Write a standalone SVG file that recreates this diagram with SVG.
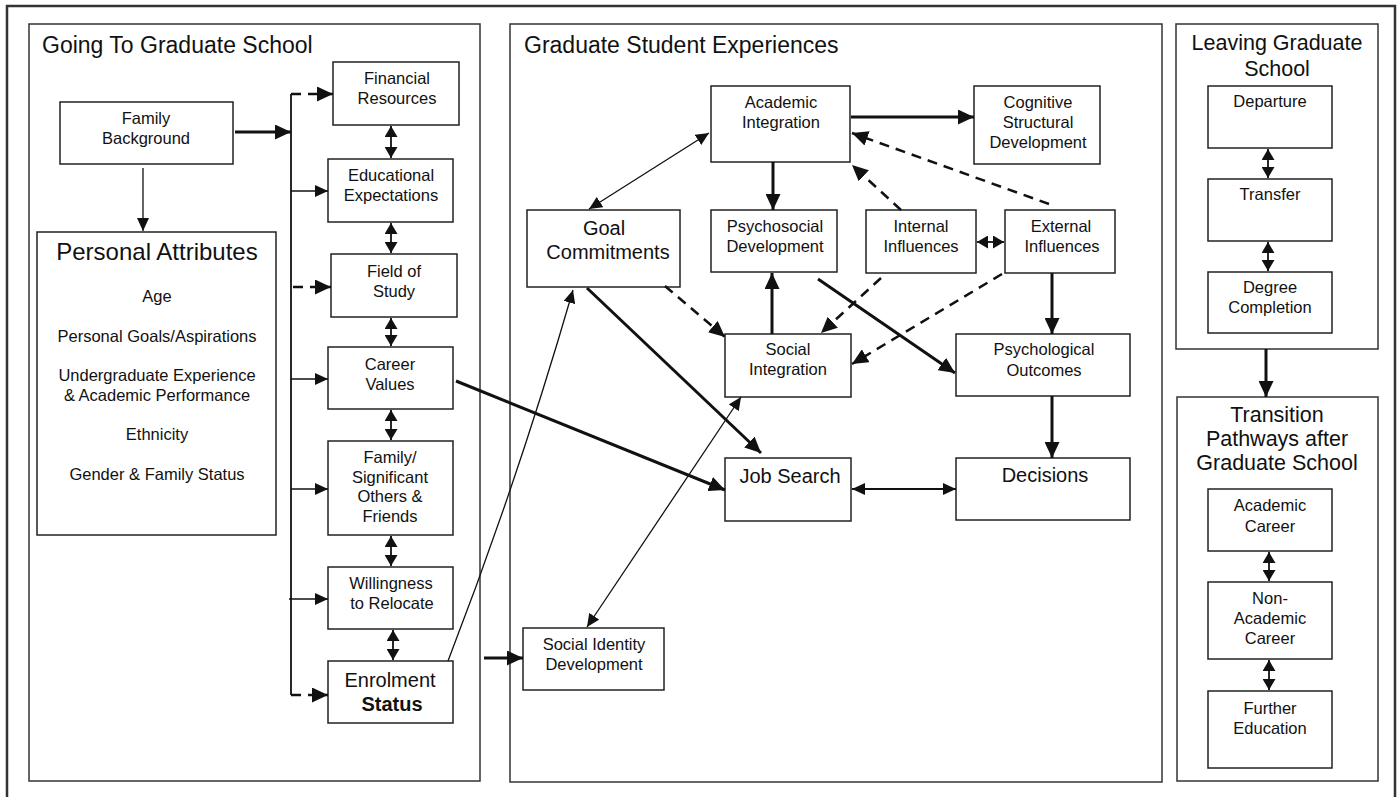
<svg xmlns="http://www.w3.org/2000/svg" width="1398" height="797" viewBox="0 0 1398 797">
<style>
text{font-family:"Liberation Sans",Arial,sans-serif;fill:#111;text-anchor:middle}
.t{font-size:16.5px}
.tl{font-size:20px}
.h{font-size:23px}
.h2{font-size:21.5px}
.box{fill:#fff;stroke:#222;stroke-width:1.5}
.panel{fill:#fff;stroke:#333;stroke-width:1.5}
.thick{fill:none;stroke:#111;stroke-width:3}
.thin{fill:none;stroke:#111;stroke-width:1.3}
.med{fill:none;stroke:#111;stroke-width:1.8}
.dash{fill:none;stroke:#111;stroke-width:2.5;stroke-dasharray:10 7}
</style>
<defs>
<marker id="big" viewBox="0 0 16 15" refX="16" refY="7.5" markerWidth="16" markerHeight="15" markerUnits="userSpaceOnUse" orient="auto-start-reverse"><path d="M0,0 L16,7.5 L0,15 z" fill="#111"/></marker>
<marker id="sm" viewBox="0 0 13 12" refX="13" refY="6" markerWidth="13" markerHeight="12" markerUnits="userSpaceOnUse" orient="auto-start-reverse"><path d="M0,0 L13,6 L0,12 z" fill="#111"/></marker>
<marker id="dbl" viewBox="0 0 11 13" refX="11" refY="6.5" markerWidth="11" markerHeight="13" markerUnits="userSpaceOnUse" orient="auto-start-reverse"><path d="M0,0 L11,6.5 L0,13 z" fill="#111"/></marker>
</defs>
<rect x="0" y="0" width="1398" height="797" fill="#fff"/>
<rect x="7" y="6" width="1388" height="800" fill="none" stroke="#333" stroke-width="2.5"/>

<g id="panel-going">
<rect class="panel" x="29" y="24" width="451" height="757"/>
<text class="h" x="42" y="53" style="text-anchor:start">Going To Graduate School</text>
</g>
<g id="panel-experiences">
<rect class="panel" x="510" y="24" width="652" height="758"/>
<text class="h" x="524" y="53" style="text-anchor:start">Graduate Student Experiences</text>
</g>
<g id="panel-leaving">
<rect class="panel" x="1176" y="24" width="202" height="325"/>
<text class="h2" x="1277" y="50">Leaving Graduate</text>
<text class="h2" x="1277" y="76">School</text>
</g>
<g id="panel-transition">
<rect class="panel" x="1177" y="397" width="201" height="384"/>
<text class="h2" x="1277" y="422">Transition</text>
<text class="h2" x="1277" y="446">Pathways after</text>
<text class="h2" x="1277" y="470">Graduate School</text>
</g>

<g id="family-background">
<rect class="box" x="60" y="102" width="173" height="62"/>
<text class="t" x="146" y="124">Family</text>
<text class="t" x="146" y="144">Background</text>
</g>
<g id="personal-attributes">
<rect class="box" x="37" y="232" width="239" height="303"/>
<text x="157" y="260" style="font-size:24px">Personal Attributes</text>
<text class="t" x="157" y="302">Age</text>
<text class="t" x="157" y="342">Personal Goals/Aspirations</text>
<text class="t" x="157" y="381">Undergraduate Experience</text>
<text class="t" x="157" y="401">&amp; Academic Performance</text>
<text class="t" x="157" y="440">Ethnicity</text>
<text class="t" x="157" y="480">Gender &amp; Family Status</text>
</g>
<g id="financial-resources">
<rect class="box" x="333" y="62" width="126" height="63"/>
<text class="t" x="397" y="84">Financial</text>
<text class="t" x="397" y="104">Resources</text>
</g>
<g id="educational-expectations">
<rect class="box" x="328" y="159" width="125" height="63"/>
<text class="t" x="391" y="181">Educational</text>
<text class="t" x="391" y="201">Expectations</text>
</g>
<g id="field-of-study">
<rect class="box" x="331" y="254" width="126" height="63"/>
<text class="t" x="394" y="277">Field of</text>
<text class="t" x="394" y="297">Study</text>
</g>
<g id="career-values">
<rect class="box" x="328" y="347" width="125" height="62"/>
<text class="t" x="390" y="370">Career</text>
<text class="t" x="390" y="390">Values</text>
</g>
<g id="family-significant-others">
<rect class="box" x="328" y="441" width="125" height="94"/>
<text class="t" x="390" y="463">Family/</text>
<text class="t" x="390" y="483">Significant</text>
<text class="t" x="390" y="502">Others &amp;</text>
<text class="t" x="390" y="522">Friends</text>
</g>
<g id="willingness-to-relocate">
<rect class="box" x="328" y="567" width="125" height="62"/>
<text class="t" x="391" y="589">Willingness</text>
<text class="t" x="392" y="609">to Relocate</text>
</g>
<g id="enrolment-status">
<rect class="box" x="328" y="661" width="125" height="62"/>
<text class="tl" x="390" y="687">Enrolment</text>
<text class="tl" x="392" y="711" style="font-weight:bold">Status</text>
</g>

<g id="academic-integration">
<rect class="box" x="711" y="86" width="139" height="76"/>
<text class="t" x="781" y="108">Academic</text>
<text class="t" x="781" y="128">Integration</text>
</g>
<g id="cognitive-structural-development">
<rect class="box" x="974" y="86" width="126" height="78"/>
<text class="t" x="1038" y="108">Cognitive</text>
<text class="t" x="1038" y="128">Structural</text>
<text class="t" x="1038" y="148">Development</text>
</g>
<g id="goal-commitments">
<rect class="box" x="527" y="210" width="153" height="77"/>
<text class="tl" x="604" y="235">Goal</text>
<text class="tl" x="608" y="259">Commitments</text>
</g>
<g id="psychosocial-development">
<rect class="box" x="711" y="210" width="126" height="62"/>
<text class="t" x="775" y="232">Psychosocial</text>
<text class="t" x="775" y="252">Development</text>
</g>
<g id="internal-influences">
<rect class="box" x="866" y="210" width="110" height="63"/>
<text class="t" x="921" y="232">Internal</text>
<text class="t" x="921" y="252">Influences</text>
</g>
<g id="external-influences">
<rect class="box" x="1005" y="210" width="110" height="63"/>
<text class="t" x="1061" y="232">External</text>
<text class="t" x="1062" y="252">Influences</text>
</g>
<g id="social-integration">
<rect class="box" x="725" y="334" width="126" height="63"/>
<text class="t" x="788" y="355">Social</text>
<text class="t" x="788" y="375">Integration</text>
</g>
<g id="psychological-outcomes">
<rect class="box" x="956" y="334" width="174" height="62"/>
<text class="t" x="1044" y="355">Psychological</text>
<text class="t" x="1044" y="376">Outcomes</text>
</g>
<g id="job-search">
<rect class="box" x="725" y="458" width="126" height="63"/>
<text class="tl" x="790" y="483">Job Search</text>
</g>
<g id="decisions">
<rect class="box" x="956" y="458" width="174" height="62"/>
<text class="tl" x="1045" y="482">Decisions</text>
</g>
<g id="social-identity-development">
<rect class="box" x="523" y="628" width="141" height="62"/>
<text class="t" x="594" y="650">Social Identity</text>
<text class="t" x="594" y="670">Development</text>
</g>

<g id="departure">
<rect class="box" x="1208" y="86" width="124" height="62"/>
<text class="t" x="1270" y="107">Departure</text>
</g>
<g id="transfer">
<rect class="box" x="1208" y="179" width="124" height="62"/>
<text class="t" x="1270" y="200">Transfer</text>
</g>
<g id="degree-completion">
<rect class="box" x="1208" y="272" width="124" height="61"/>
<text class="t" x="1270" y="293">Degree</text>
<text class="t" x="1270" y="313">Completion</text>
</g>
<g id="academic-career">
<rect class="box" x="1208" y="489" width="124" height="62"/>
<text class="t" x="1270" y="511">Academic</text>
<text class="t" x="1270" y="532">Career</text>
</g>
<g id="non-academic-career">
<rect class="box" x="1208" y="582" width="124" height="77"/>
<text class="t" x="1270" y="604">Non-</text>
<text class="t" x="1270" y="624">Academic</text>
<text class="t" x="1270" y="644">Career</text>
</g>
<g id="further-education">
<rect class="box" x="1208" y="691" width="124" height="77"/>
<text class="t" x="1270" y="714">Further</text>
<text class="t" x="1270" y="734">Education</text>
</g>

<g id="connectors">
<path class="thick" d="M235,132 L291,132" marker-end="url(#big)"/>
<path class="thin" d="M143,168 L143,231" marker-end="url(#sm)"/>
<path class="med" d="M291,94 L291,695"/>
<path class="dash" d="M291,94 L333,94" marker-end="url(#big)"/>
<path class="thin" d="M291,191 L328,191" marker-end="url(#sm)"/>
<path class="dash" d="M293,287 L331,287" marker-end="url(#big)"/>
<path class="thin" d="M291,379 L328,379" marker-end="url(#sm)"/>
<path class="thin" d="M291,489 L328,489" marker-end="url(#sm)"/>
<path class="thin" d="M289,599 L328,599" marker-end="url(#sm)"/>
<path class="dash" d="M291,695 L328,695" marker-end="url(#big)"/>
<path class="med" d="M391,126 L391,158" marker-start="url(#dbl)" marker-end="url(#dbl)"/>
<path class="med" d="M391,223 L391,253" marker-start="url(#dbl)" marker-end="url(#dbl)"/>
<path class="med" d="M391,318 L391,346" marker-start="url(#dbl)" marker-end="url(#dbl)"/>
<path class="med" d="M391,410 L391,440" marker-start="url(#dbl)" marker-end="url(#dbl)"/>
<path class="med" d="M391,536 L391,566" marker-start="url(#dbl)" marker-end="url(#dbl)"/>
<path class="med" d="M393,630 L393,660" marker-start="url(#dbl)" marker-end="url(#dbl)"/>
<path class="thick" d="M484,658 L523,658" marker-end="url(#big)"/>
<path class="thin" d="M448,661 Q518,480 573,290" marker-end="url(#sm)"/>
<path class="thick" d="M456,381 L725,490" marker-end="url(#big)"/>
<path class="thin" d="M709,133 L589,209" marker-start="url(#sm)" marker-end="url(#sm)"/>
<path class="thick" d="M851,117 L974,117" marker-end="url(#big)"/>
<path class="thick" d="M773,162 L773,210" marker-end="url(#big)"/>
<path class="thick" d="M772,334 L772,273" marker-end="url(#big)"/>
<path class="dash" d="M665,286 L725,337" marker-end="url(#big)"/>
<path class="thick" d="M587,288 L761,453" marker-end="url(#big)"/>
<path class="dash" d="M901,210 L852,165" marker-end="url(#big)"/>
<path class="dash" d="M1049,204 L852,133" marker-end="url(#big)"/>
<path class="dash" d="M881,278 L821,333" marker-end="url(#big)"/>
<path class="dash" d="M1002,274 L852,364" marker-end="url(#big)"/>
<path class="med" d="M977,242 L1004,242" marker-start="url(#dbl)" marker-end="url(#dbl)"/>
<path class="thick" d="M1052,273 L1052,334" marker-end="url(#big)"/>
<path class="thick" d="M818,279 L955,373" marker-end="url(#big)"/>
<path class="thin" d="M741,397 L587,627" marker-start="url(#sm)" marker-end="url(#sm)"/>
<path class="thick" d="M1052,396 L1052,458" marker-end="url(#big)"/>
<path class="med" d="M852,489 L956,489" marker-start="url(#sm)" marker-end="url(#sm)"/>
<path class="med" d="M1268,149 L1268,178" marker-start="url(#dbl)" marker-end="url(#dbl)"/>
<path class="med" d="M1268,242 L1268,271" marker-start="url(#dbl)" marker-end="url(#dbl)"/>
<path class="med" d="M1269,552 L1269,581" marker-start="url(#dbl)" marker-end="url(#dbl)"/>
<path class="med" d="M1269,660 L1269,690" marker-start="url(#dbl)" marker-end="url(#dbl)"/>
<path class="thick" d="M1266,349 L1266,397" marker-end="url(#big)"/>
</g>
</svg>
